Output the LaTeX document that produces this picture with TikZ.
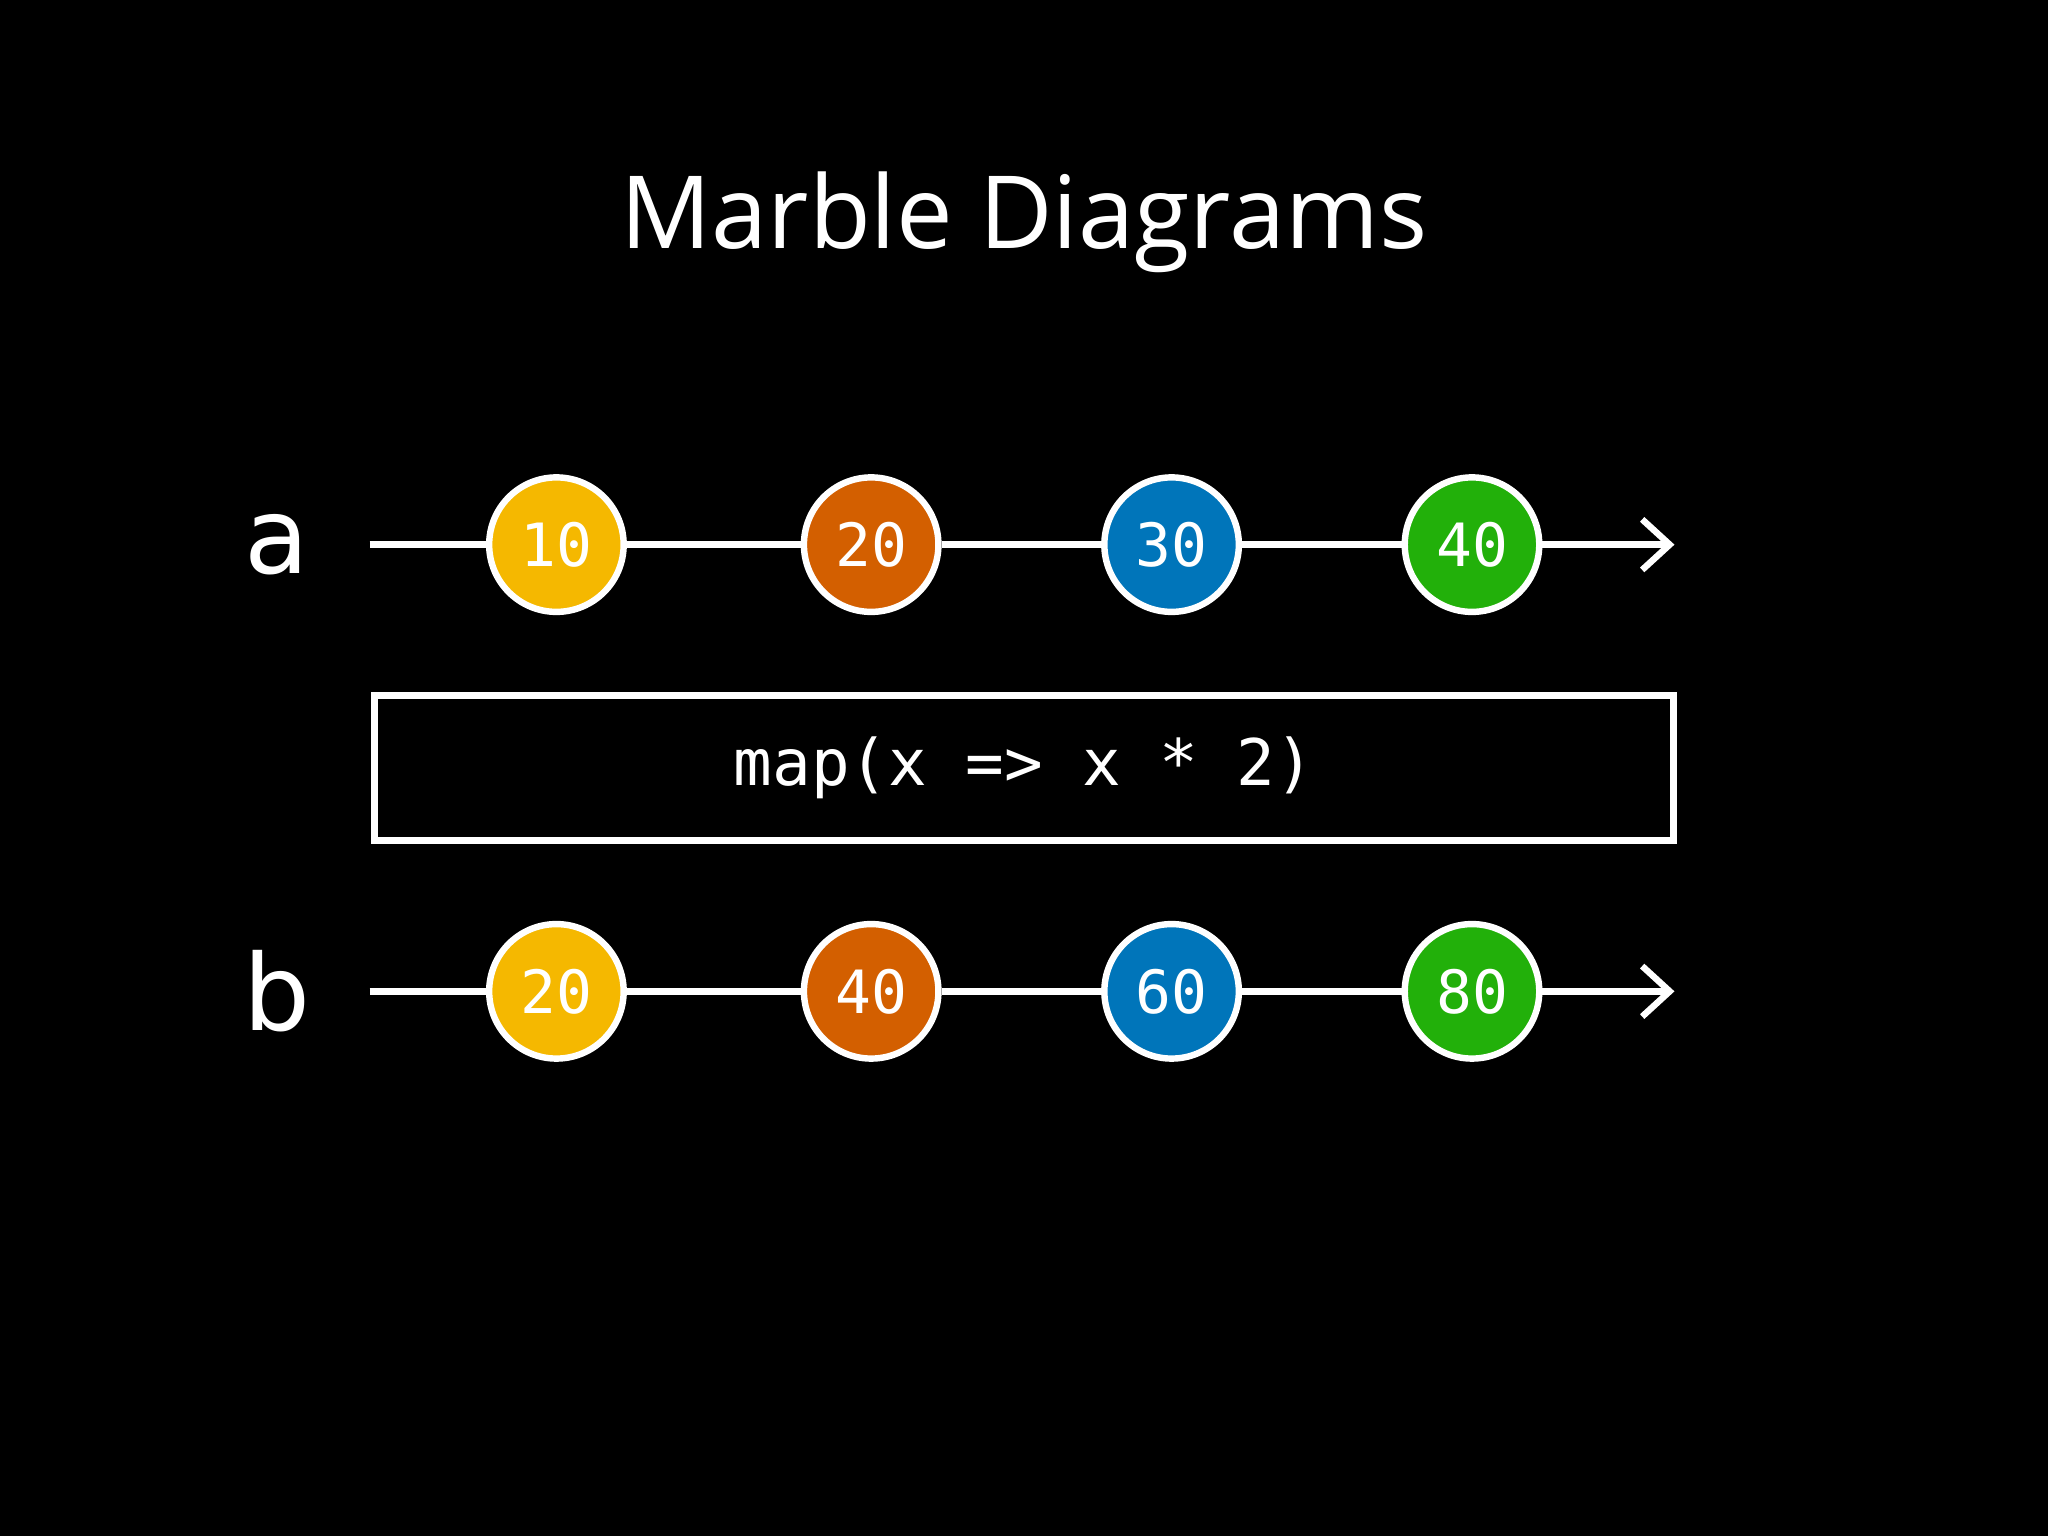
\documentclass[tikz,border=0pt]{standalone}
\usepackage{fontspec}
\setmainfont{Open Sans}
\newfontfamily\monof{DejaVu Sans Mono}
\newfontfamily\labf{DejaVu Sans}
\usetikzlibrary{arrows.meta}
\definecolor{myyel}{HTML}{F5B800}
\definecolor{myora}{HTML}{D35F00}
\definecolor{myblu}{HTML}{0075BA}
\definecolor{mygrn}{HTML}{22B00A}
\begin{document}
\begin{tikzpicture}[x=0.02cm,y=0.02cm,
  marble/.style={circle,draw=white,line width=2.8pt,minimum size=2.06cm,inner sep=0pt,text=white,font=\monof\fontsize{26}{30}\selectfont},
  wire/.style={white,line width=2.8pt},
  lbl/.style={text=white,font=\labf\fontsize{46}{50}\selectfont}]
\fill[black] (0,0) rectangle (1568,1176);
\node[text=white,font=\fontsize{44}{50}\selectfont] (title) at (784,1006) {Marble Diagrams};
\foreach \r/\y/\l in {a/759/a,b/417/b}{
  \node[lbl] (lab\r) at (212,\y) {\l};
  \coordinate (s\r) at (283,\y);
  \coordinate (e\r) at (1282,\y);
}
\node[marble,fill=myyel] (a1) at (426,759) {10};
\node[marble,fill=myora] (a2) at (667,759) {20};
\node[marble,fill=myblu] (a3) at (897,759) {30};
\node[marble,fill=mygrn] (a4) at (1127,759) {40};
\node[marble,fill=myyel] (b1) at (426,417) {20};
\node[marble,fill=myora] (b2) at (667,417) {40};
\node[marble,fill=myblu] (b3) at (897,417) {60};
\node[marble,fill=mygrn] (b4) at (1127,417) {80};
\foreach \r in {a,b}{
  \draw[wire] (s\r) -- (\r1);
  \draw[wire] (\r1) -- (\r2);
  \draw[wire] (\r2) -- (\r3);
  \draw[wire] (\r3) -- (\r4);
  \draw[wire,-{Straight Barb[length=12pt,width=22pt]}] (\r4) -- (e\r);
}
\node[draw=white,line width=2.8pt,minimum width=19.9cm,minimum height=2.22cm,text=white,font=\monof\fontsize{28}{32}\selectfont] (op) at (784,588) {map(x => x * 2)};
\end{tikzpicture}
\end{document}
